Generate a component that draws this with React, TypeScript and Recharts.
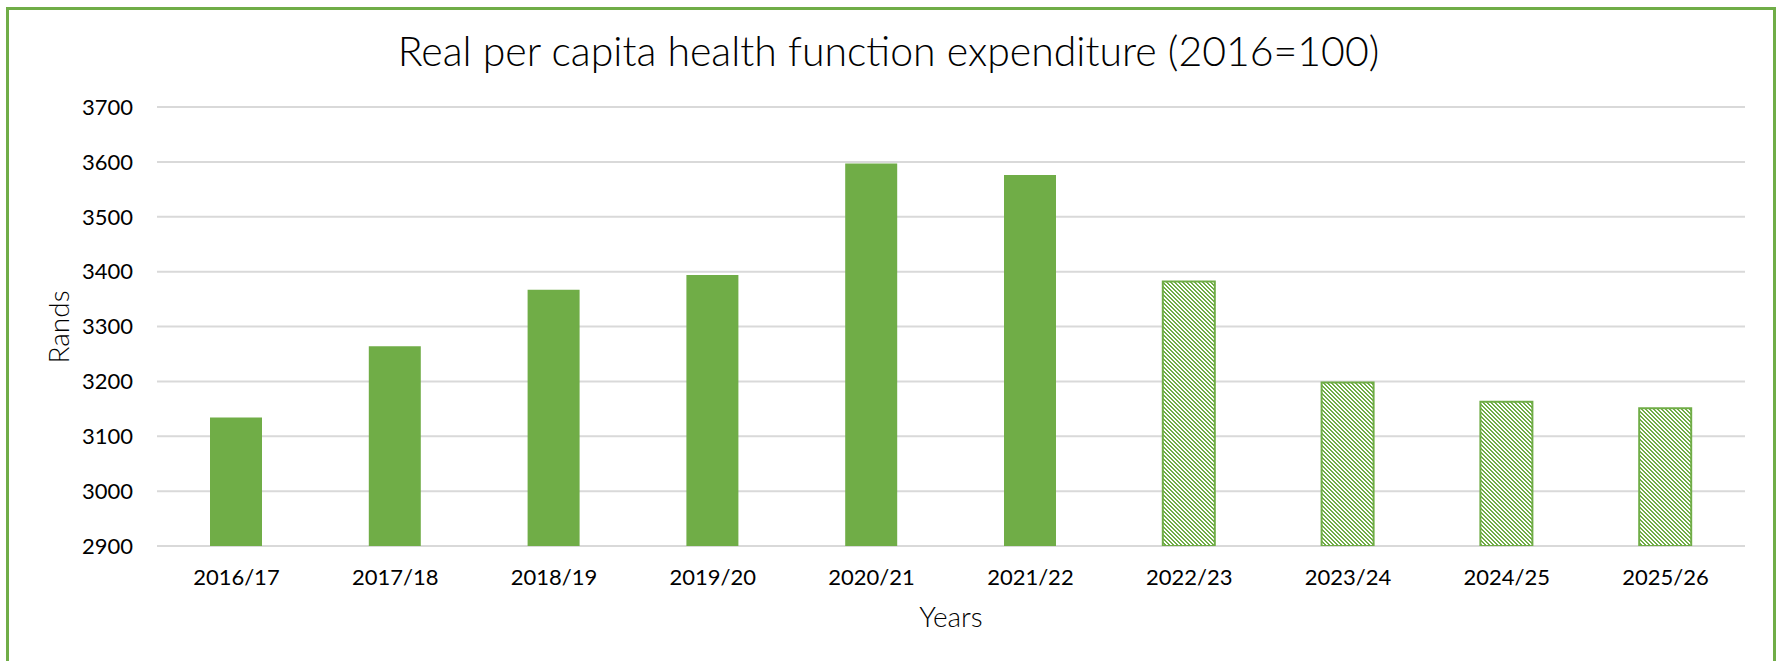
import { BarChart, Bar, XAxis, YAxis, CartesianGrid, Cell, Label } from 'recharts'

const categories = ['2016/17', '2017/18', '2018/19', '2019/20', '2020/21', '2021/22', '2022/23', '2023/24', '2024/25', '2025/26']
const expenditure = [3134, 3264, 3367, 3394, 3597, 3576, 3382, 3198, 3163, 3151]
const projected = [false, false, false, false, false, false, true, true, true, true]
const yTicks = [2900, 3000, 3100, 3200, 3300, 3400, 3500, 3600, 3700]

const GREEN = '#70AD47'
const FONT = 'Lato, "DejaVu Sans", sans-serif'

const data = categories.map((year, i) => ({ year, value: expenditure[i], projected: projected[i] }))

function RandsLabel() {
  return (
    <text x={58} y={327} transform="rotate(-90 58 327)" textAnchor="middle" dominantBaseline="central"
      fontSize={28} fontWeight={300} fill="#000" fontFamily={FONT}>
      Rands
    </text>
  )
}

export default function App() {
  return (
    <div style={{ position: 'absolute', left: 0, top: 0, width: 1777, height: 661, background: '#fff', overflow: 'hidden', fontFamily: FONT }}>
      <div style={{ position: 'absolute', left: 6, top: 7, width: 1770, height: 720, border: `3px solid ${GREEN}`, boxSizing: 'border-box' }} />
      <div style={{ position: 'absolute', left: 0, top: 29, width: 1777, textAlign: 'center', fontSize: 41, fontWeight: 300, lineHeight: '44px', color: '#000' }}>
        Real per capita health function expenditure (2016=100)
      </div>
      <div style={{ position: 'absolute', left: 0, top: 0 }}>
        <BarChart width={1777} height={661} data={data} margin={{ top: 107, right: 32, left: 0, bottom: 0 }}>
          <defs>
            {/* crisp pixel diagonal hatch, like Excel's wide downward diagonal */}
            <pattern id="hatch" patternUnits="userSpaceOnUse" width="4" height="4">
              <rect width="4" height="4" fill="#fff" />
              <g fill={GREEN} shapeRendering="crispEdges">
                <rect x="0" y="0" width="2" height="1" />
                <rect x="1" y="1" width="2" height="1" />
                <rect x="2" y="2" width="2" height="1" />
                <rect x="3" y="3" width="1" height="1" />
                <rect x="0" y="3" width="1" height="1" />
              </g>
            </pattern>
          </defs>
          <CartesianGrid vertical={false} stroke="#d9d9d9" strokeWidth={2} />
          <XAxis
            dataKey="year"
            height={115}
            tickLine={false}
            axisLine={false}
            tickSize={0}
            tickMargin={23}
            tick={{ fontSize: 22, fill: '#000', fontFamily: FONT }}
            interval={0}
          >
            <Label value="Years" position="insideBottom" offset={34} style={{ fontSize: 28, fontWeight: 300, fill: '#000', fontFamily: FONT }} />
          </XAxis>
          <YAxis
            width={157}
            domain={[2900, 3700]}
            ticks={yTicks}
            allowDataOverflow
            tickLine={false}
            axisLine={false}
            tickSize={0}
            tickMargin={24}
            tick={{ fontSize: 22, fill: '#000', fontFamily: FONT }}
          >
            <Label content={<RandsLabel />} />
          </YAxis>
          <Bar dataKey="value" barSize={52} isAnimationActive={false}>
            {data.map((d, i) => (
              <Cell
                key={i}
                fill={d.projected ? 'url(#hatch)' : GREEN}
                stroke={d.projected ? GREEN : 'none'}
                strokeWidth={d.projected ? 2 : 0}
              />
            ))}
          </Bar>
        </BarChart>
      </div>
    </div>
  )
}
